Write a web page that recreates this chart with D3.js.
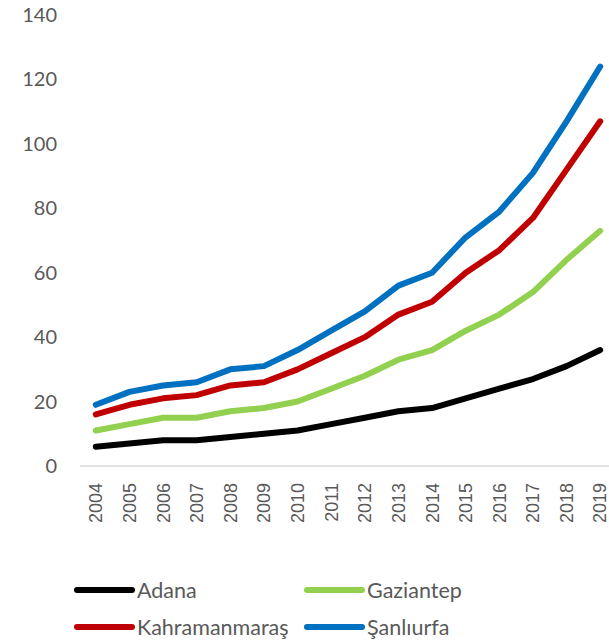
<!DOCTYPE html>
<html>
<head>
<meta charset="utf-8">
<script src="https://cdn.jsdelivr.net/npm/d3@7"></script>
<style>
  html, body { margin: 0; padding: 0; background: #fff; }
  svg { display: block; }
</style>
</head>
<body>
<script>
const years = ["2004","2005","2006","2007","2008","2009","2010","2011","2012","2013","2014","2015","2016","2017","2018","2019"];
const adana = [6, 7, 8, 8, 9, 10, 11, 13, 15, 17, 18, 21, 24, 27, 31, 36];
const gaziantep = [11, 13, 15, 15, 17, 18, 20, 24, 28, 33, 36, 42, 47, 54, 64, 73];
const kahramanmaras = [16, 19, 21, 22, 25, 26, 30, 35, 40, 47, 51, 60, 67, 77, 92, 107];
const sanliurfa = [19, 23, 25, 26, 30, 31, 36, 42, 48, 56, 60, 71, 79, 91, 107, 124];
const yTicks = [0, 20, 40, 60, 80, 100, 120, 140];

const seriesNames = ["Adana", "Gaziantep", "Kahramanmaraş", "Şanlıurfa"];
const seriesColors = ["#000000", "#92D050", "#C00000", "#0070C0"];
const seriesData = [adana, gaziantep, kahramanmaras, sanliurfa];

const W = 609, H = 642;
const svg = d3.select("body").append("svg").attr("width", W).attr("height", H);

const x = d3.scaleBand().domain(years).range([79, 617]);
const y = d3.scaleLinear().domain([0, 140]).range([466, 15]);

const font = "Lato, 'Open Sans', sans-serif";
const textColor = "#595959";

// y tick labels
svg.append("g").selectAll("text").data(yTicks).join("text")
  .attr("x", 57).attr("y", d => y(d)).attr("dy", "0.35em")
  .attr("text-anchor", "end")
  .attr("font-family", font).attr("font-size", 20).attr("fill", textColor)
  .text(d => d);

// x axis line
svg.append("line")
  .attr("x1", 80).attr("x2", W).attr("y1", y(0)).attr("y2", y(0))
  .attr("stroke", "#d9d9d9").attr("stroke-width", 1.5);

// x labels rotated
svg.append("g").selectAll("text").data(years).join("text")
  .attr("transform", d => `translate(${Math.min(x(d) + x.bandwidth() / 2 + 6.5, 606)},483) rotate(-90)`)
  .attr("text-anchor", "end")
  .attr("font-family", "'Liberation Sans', Arial, sans-serif").attr("font-size", 18).attr("fill", textColor)
  .text(d => d);

// lines
const line = d3.line()
  .x((d, i) => x(years[i]) + x.bandwidth() / 2)
  .y(d => y(d));

svg.append("g").selectAll("path").data(seriesData).join("path")
  .attr("d", d => line(d))
  .attr("fill", "none")
  .attr("stroke", (d, i) => seriesColors[i])
  .attr("stroke-width", 6)
  .attr("stroke-linecap", "round")
  .attr("stroke-linejoin", "round");

// legend
const legendPos = [[77, 590], [307, 590], [77, 627], [307, 627]];
const lg = svg.append("g").selectAll("g").data(seriesNames).join("g")
  .attr("transform", (d, i) => `translate(${legendPos[i][0]},${legendPos[i][1]})`);
lg.append("line")
  .attr("x1", 0).attr("x2", 55).attr("y1", 0).attr("y2", 0)
  .attr("stroke", (d, i) => seriesColors[i])
  .attr("stroke-width", 6).attr("stroke-linecap", "round");
lg.append("text")
  .attr("x", 60).attr("y", 0).attr("dy", "0.35em")
  .attr("font-family", font).attr("font-size", 21.5).attr("fill", textColor)
  .text(d => d);
</script>
</body>
</html>
